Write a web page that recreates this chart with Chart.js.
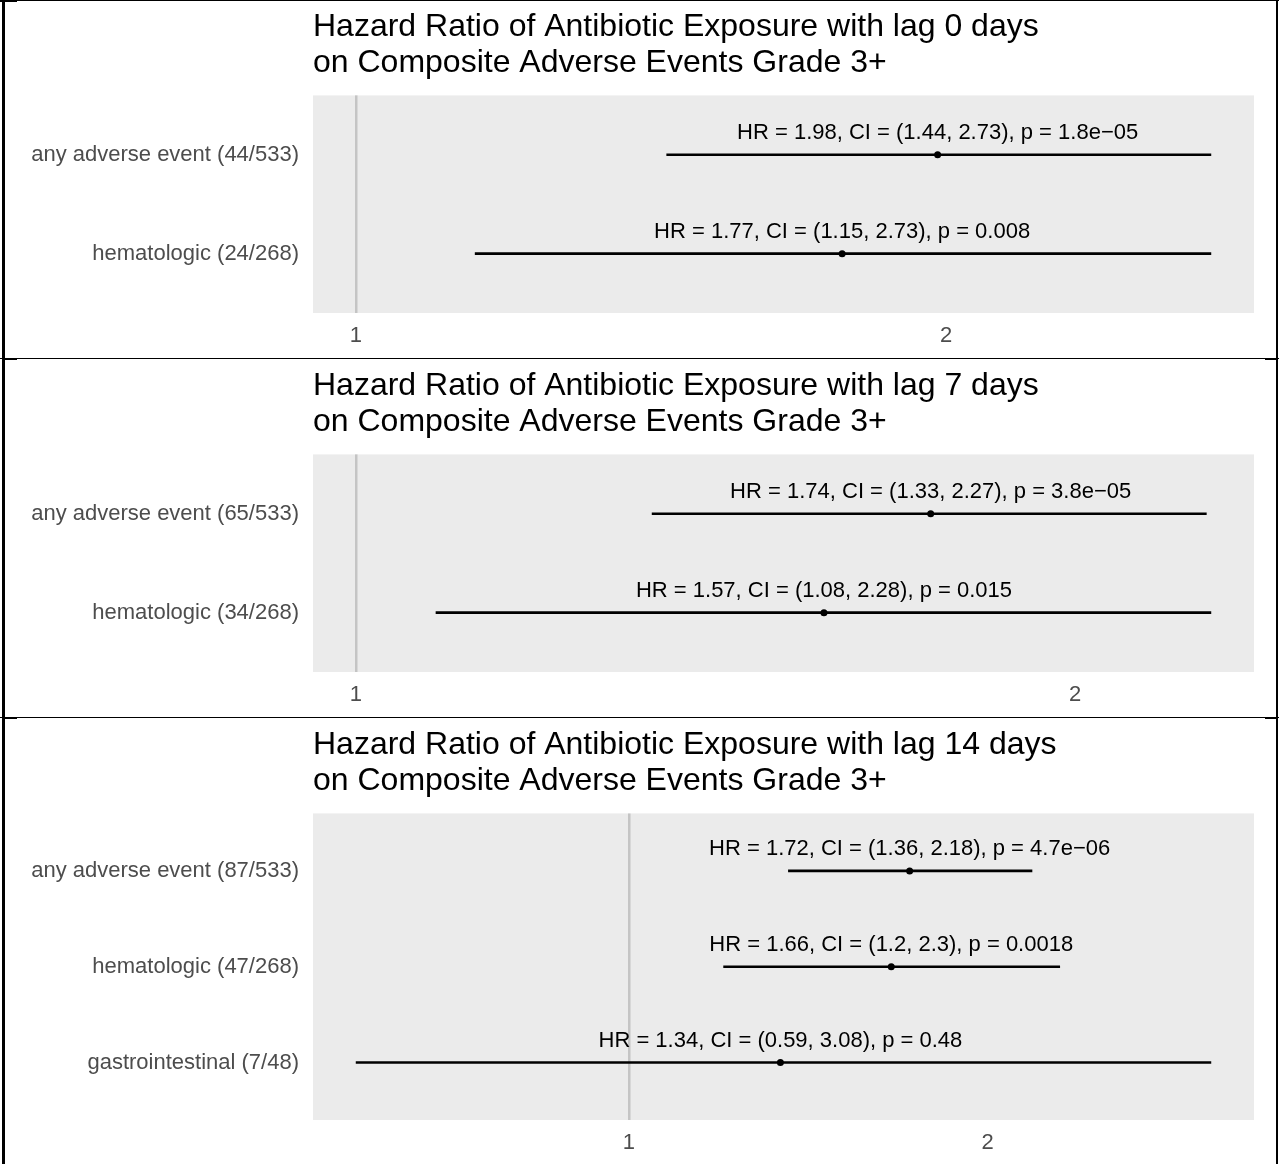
<!DOCTYPE html>
<html>
<head>
<meta charset="utf-8">
<title>Hazard Ratio of Antibiotic Exposure</title>
<script src="https://cdn.jsdelivr.net/npm/chart.js@4.4.1/dist/chart.umd.min.js"></script>
<style>
  html, body { margin: 0; padding: 0; background: #ffffff; }
  #page { position: relative; width: 1279px; height: 1164px; overflow: hidden; }
  .panel { position: absolute; left: 0; width: 1279px; }
  .panel canvas { display: block; }
  .rule { position: absolute; background: #000000; z-index: 5; }
</style>
</head>
<body>
<div id="page">
  <div class="panel" style="top:0px;height:358px;"><canvas id="lag0" width="1279" height="358"></canvas></div>
  <div class="panel" style="top:359px;height:358px;"><canvas id="lag7" width="1279" height="358"></canvas></div>
  <div class="panel" style="top:718px;height:446px;"><canvas id="lag14" width="1279" height="446"></canvas></div>

  <!-- table frame around the three panels -->
  <div class="rule" style="left:0;top:0;width:1279px;height:1px;"></div>
  <div class="rule" style="left:0;top:0;width:17px;height:2px;"></div>
  <div class="rule" style="left:2px;top:0;width:3px;height:1164px;"></div>
  <div class="rule" style="left:1276px;top:0;width:2px;height:1164px;"></div>
  <div class="rule" style="left:0;top:358px;width:1279px;height:1px;"></div>
  <div class="rule" style="left:3px;top:358px;width:14px;height:2px;"></div>
  <div class="rule" style="left:1265px;top:358px;width:13px;height:2px;"></div>
  <div class="rule" style="left:0;top:717px;width:1279px;height:1px;"></div>
  <div class="rule" style="left:3px;top:717px;width:14px;height:2px;"></div>
  <div class="rule" style="left:1265px;top:717px;width:13px;height:2px;"></div>
</div>

<script>
// ---- lag 0 days ----
const lag0Labels = ['any adverse event (44/533)', 'hematologic (24/268)'];
const lag0HR     = [1.98, 1.77];
const lag0Lower  = [1.44, 1.15];
const lag0Upper  = [2.73, 2.73];
const lag0P      = ['1.8e\u221205', '0.008'];

// ---- lag 7 days ----
const lag7Labels = ['any adverse event (65/533)', 'hematologic (34/268)'];
const lag7HR     = [1.74, 1.57];
const lag7Lower  = [1.33, 1.08];
const lag7Upper  = [2.27, 2.28];
const lag7P      = ['3.8e\u221205', '0.015'];

// ---- lag 14 days ----
const lag14Labels = ['any adverse event (87/533)', 'hematologic (47/268)', 'gastrointestinal (7/48)'];
const lag14HR     = [1.72, 1.66, 1.34];
const lag14Lower  = [1.36, 1.2, 0.59];
const lag14Upper  = [2.18, 2.3, 3.08];
const lag14P      = ['4.7e\u221206', '0.0018', '0.48'];

// x-axis ticks and the reference line (HR = 1)
const xTicks = [1, 2];
const refHR = 1;

const FONT = "'Liberation Sans', Arial, Helvetica, sans-serif";

// grey panel background behind the plotting region
const panelBackground = {
  id: 'panelBackground',
  beforeDraw(chart) {
    const { ctx, chartArea } = chart;
    ctx.save();
    ctx.fillStyle = '#EBEBEB';
    ctx.fillRect(chartArea.left, chartArea.top, chartArea.right - chartArea.left, chartArea.bottom - chartArea.top);
    ctx.restore();
  }
};

// "HR = ..., CI = (...), p = ..." above each estimate
const estimateLabels = {
  id: 'estimateLabels',
  afterDatasetsDraw(chart, args, opts) {
    const { ctx, scales } = chart;
    ctx.save();
    ctx.font = '22px ' + FONT;
    ctx.fillStyle = '#000000';
    ctx.textAlign = 'center';
    ctx.textBaseline = 'alphabetic';
    opts.hr.forEach((hr, i) => {
      const x = scales.x.getPixelForValue(hr);
      const y = scales.y.getPixelForValue(i + 1);
      const txt = 'HR = ' + String(hr) + ', CI = (' + String(opts.lower[i]) + ', ' +
                  String(opts.upper[i]) + '), p = ' + opts.p[i];
      ctx.fillText(txt, x, y - 16);
    });
    ctx.restore();
  }
};

function makeForest(id, lag, labels, hr, lower, upper, pvals, axisHeight) {
  const n = labels.length;
  // log-scale range with 5% padding on each side
  const lo = Math.log10(Math.min(refHR, ...lower));
  const hi = Math.log10(Math.max(refHR, ...upper));
  const pad = (hi - lo) * 0.05;

  const datasets = labels.map((lab, i) => ({
    label: lab,
    data: [{ x: lower[i], y: i + 1 }, { x: upper[i], y: i + 1 }],
    showLine: true,
    borderColor: '#000000',
    borderWidth: 2.6,
    pointRadius: 0,
    order: 2
  }));
  datasets.push({
    label: 'HR',
    data: hr.map((v, i) => ({ x: v, y: i + 1 })),
    showLine: false,
    pointRadius: 3.5,
    pointBackgroundColor: '#000000',
    pointBorderWidth: 0,
    order: 1
  });

  return new Chart(document.getElementById(id), {
    type: 'scatter',
    data: { datasets },
    options: {
      responsive: false,
      animation: false,
      events: [],
      layout: { padding: { left: 0, right: 25, top: 0, bottom: 0 } },
      plugins: {
        legend: { display: false },
        tooltip: { enabled: false },
        title: {
          display: true,
          fullSize: false,
          align: 'start',
          text: ['Hazard Ratio of Antibiotic Exposure with lag ' + lag + ' days',
                 'on Composite Adverse Events Grade 3+'],
          color: '#000000',
          font: { family: FONT, size: 32, weight: 'normal', lineHeight: 1.1 },
          padding: { top: 10, bottom: 15 }
        },
        estimateLabels: { hr, lower, upper, p: pvals }
      },
      scales: {
        x: {
          type: 'logarithmic',
          min: Math.pow(10, lo - pad),
          max: Math.pow(10, hi + pad),
          border: { display: false },
          grid: {
            drawTicks: false,
            lineWidth: 2.5,
            color: (c) => (c.tick && c.tick.value === refHR) ? '#C4C4C4' : 'rgba(0,0,0,0)'
          },
          afterBuildTicks: (scale) => { scale.ticks = xTicks.map(v => ({ value: v })); },
          afterFit: (scale) => { scale.height = axisHeight; },
          ticks: {
            color: '#4D4D4D',
            font: { family: FONT, size: 22 },
            padding: 10,
            autoSkip: false,
            maxRotation: 0,
            callback: (v) => String(v)
          }
        },
        y: {
          type: 'linear',
          reverse: true,
          min: 0.4,
          max: n + 0.6,
          border: { display: false },
          grid: { display: false, drawTicks: false },
          afterBuildTicks: (scale) => { scale.ticks = labels.map((l, i) => ({ value: i + 1 })); },
          afterFit: (scale) => { scale.width = 313; },
          ticks: {
            color: '#4D4D4D',
            font: { family: FONT, size: 22 },
            padding: 14,
            autoSkip: false,
            callback: (v) => labels[v - 1]
          }
        }
      }
    },
    plugins: [panelBackground, estimateLabels]
  });
}

makeForest('lag0', 0, lag0Labels, lag0HR, lag0Lower, lag0Upper, lag0P, 45);
makeForest('lag7', 7, lag7Labels, lag7HR, lag7Lower, lag7Upper, lag7P, 45);
makeForest('lag14', 14, lag14Labels, lag14HR, lag14Lower, lag14Upper, lag14P, 44);
</script>
</body>
</html>
